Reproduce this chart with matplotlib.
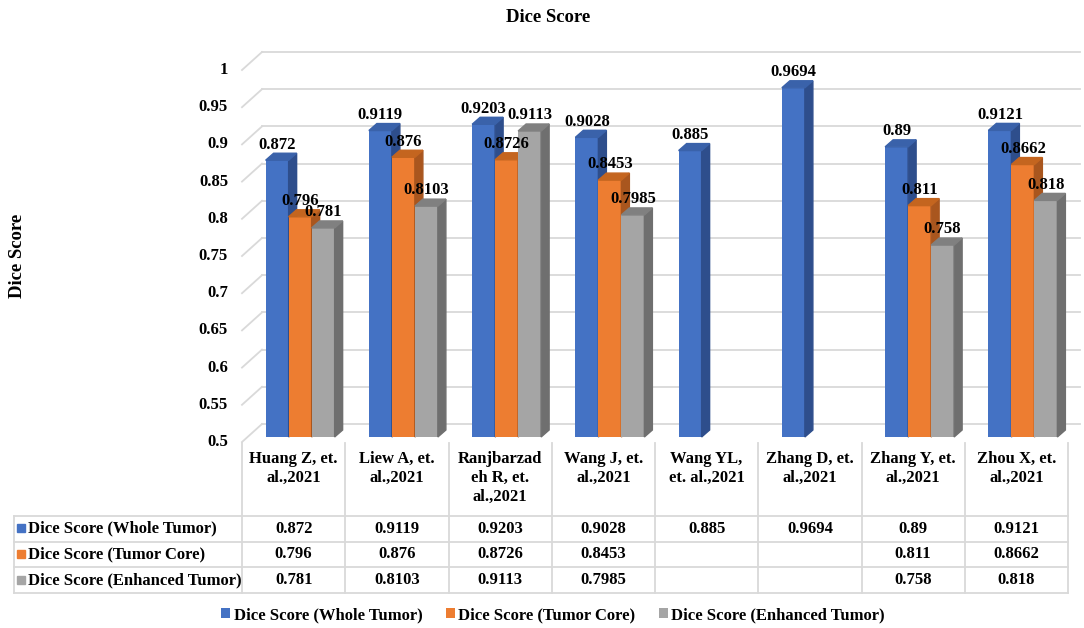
import numpy as np
import matplotlib
matplotlib.use("Agg")
import matplotlib.pyplot as plt
from matplotlib.patches import Polygon, Rectangle

# data
categories = ["Huang Z, et.\nal.,2021", "Liew A, et.\nal.,2021", "Ranjbarzad\neh R, et.\nal.,2021",
              "Wang J, et.\nal.,2021", "Wang YL,\net. al.,2021", "Zhang D, et.\nal.,2021",
              "Zhang Y, et.\nal.,2021", "Zhou X, et.\nal.,2021"]
series_names = ["Dice Score (Whole Tumor)", "Dice Score (Tumor Core)", "Dice Score (Enhanced Tumor)"]
whole_tumor = [0.872, 0.9119, 0.9203, 0.9028, 0.885, 0.9694, 0.89, 0.9121]
tumor_core = [0.796, 0.876, 0.8726, 0.8453, np.nan, np.nan, 0.811, 0.8662]
enhanced_tumor = [0.781, 0.8103, 0.9113, 0.7985, np.nan, np.nan, 0.758, 0.818]
y_ticks = [0.5, 0.55, 0.6, 0.65, 0.7, 0.75, 0.8, 0.85, 0.9, 0.95, 1.0]

front_cols = ["#4472C4", "#ED7D31", "#A5A5A5"]
side_cols = ["#2E4E8C", "#A9561E", "#6F6F6F"]
top_cols = ["#3A62AA", "#C4651F", "#808080"]

plt.rcParams['font.family'] = ['Liberation Serif', 'DejaVu Serif']
plt.rcParams['font.weight'] = 'bold'
FS = 12

W, H = 1084, 628
fig = plt.figure(figsize=(W / 100, H / 100), dpi=100)

# plot area in pixels: x 242..1068, y(0.5)=437, y(1.0)=65
ax = fig.add_axes([242 / W, 1 - 437 / H, (1068 - 242) / W, (437 - 65) / H])
ax.set_xlim(-0.5, 7.5)
ax.set_ylim(0.5, 1.0)
ax.axis('off')
pxx = 8 / (1068 - 242)   # data units per pixel in x
pxy = 0.5 / (437 - 65)   # data units per pixel in y

# back wall + side wall gridlines
grid_c = "#D9D9D9"
for v in y_ticks:
    ax.plot([-0.5 + 20 * pxx, 7.5 + 12 * pxx], [v + 13 * pxy, v + 13 * pxy],
            color=grid_c, lw=1.3, clip_on=False, zorder=1)
    ax.plot([-0.5, -0.5 + 20 * pxx], [v - 5 * pxy, v + 13 * pxy],
            color=grid_c, lw=1.3, clip_on=False, zorder=1)
    ax.text(-0.5 - 14 * pxx, v - 5 * pxy, f"{v:g}", ha='right', va='center',
            fontsize=FS, clip_on=False)

# 3d-looking bars
bw = 23 * pxx
shift = 6.5 * pxx
ddx, ddy = 8 * pxx, 7 * pxy
x = np.arange(len(categories))
all_series = [whole_tumor, tumor_core, enhanced_tumor]
handles = []
for k, vals in enumerate(all_series):
    xs = x + shift + (k - 1) * bw
    h = ax.bar(xs, np.array(vals) - 0.5, bottom=0.5, width=bw, color=front_cols[k],
               zorder=3 + k, clip_on=False, label=series_names[k])
    handles.append(h)
    for xc, v in zip(xs, vals):
        if np.isnan(v):
            continue
        x0, x1 = xc - bw / 2, xc + bw / 2
        ax.add_patch(Polygon([(x1, 0.5), (x1 + ddx, 0.5 + ddy), (x1 + ddx, v + ddy), (x1, v)],
                             closed=True, color=side_cols[k], zorder=3 + k, clip_on=False))
        ax.add_patch(Polygon([(x0, v), (x1, v), (x1 + ddx, v + ddy), (x0 + ddx, v + ddy)],
                             closed=True, color=top_cols[k], zorder=3 + k, clip_on=False))
    for xc, v in zip(xs, vals):
        if np.isnan(v):
            continue
        ax.annotate(f"{v:g}", (xc, v + ddy), xytext=(0, 0.5), textcoords='offset points',
                    ha='center', va='bottom', fontsize=FS, zorder=10, annotation_clip=False)

# titles
fig.text(548 / W, 1 - 17 / H, "Dice Score", ha='center', va='center', fontsize=13.5)
fig.text(18 / W, 1 - 256 / H, "Dice Score", ha='center', va='center', rotation=90, fontsize=13.5)

# data table drawn in pixel space
tax = fig.add_axes([0, 0, 1, 1])
tax.set_xlim(0, W)
tax.set_ylim(H, 0)
tax.axis('off')
line_c = "#D9D9D9"
col_w = (1068 - 242) / len(categories)
col_edges = [242 + col_w * i for i in range(len(categories) + 1)]
row_edges = [516, 541.5, 567, 593]
for xe in col_edges:
    tax.plot([xe, xe], [443, 593], color=line_c, lw=1.3)
tax.plot([14, 14], [516, 593], color=line_c, lw=1.3)
for ye in row_edges:
    tax.plot([14, 1068], [ye, ye], color=line_c, lw=1.3)
for i, cat in enumerate(categories):
    cx = 242 + col_w * (i + 0.5)
    tax.text(cx, 451, cat, ha='center', va='top', fontsize=FS, linespacing=1.25)
for r, vals in enumerate(all_series):
    cy = (row_edges[r] + row_edges[r + 1]) / 2
    tax.add_patch(Rectangle((17, cy - 4.5), 8, 8, color=front_cols[r]))
    tax.text(28, cy, series_names[r], ha='left', va='center', fontsize=FS)
    for i, v in enumerate(vals):
        if not np.isnan(v):
            tax.text(242 + col_w * (i + 0.5), cy, f"{v:g}", ha='center', va='center', fontsize=FS)

fig.legend(handles=handles, loc='center', bbox_to_anchor=(553 / W, 1 - 615 / H), ncol=3,
           frameon=False, fontsize=FS, handlelength=0.55, handleheight=0.55,
           handletextpad=0.2, columnspacing=1.4)

fig.savefig("out.png", dpi=100)
